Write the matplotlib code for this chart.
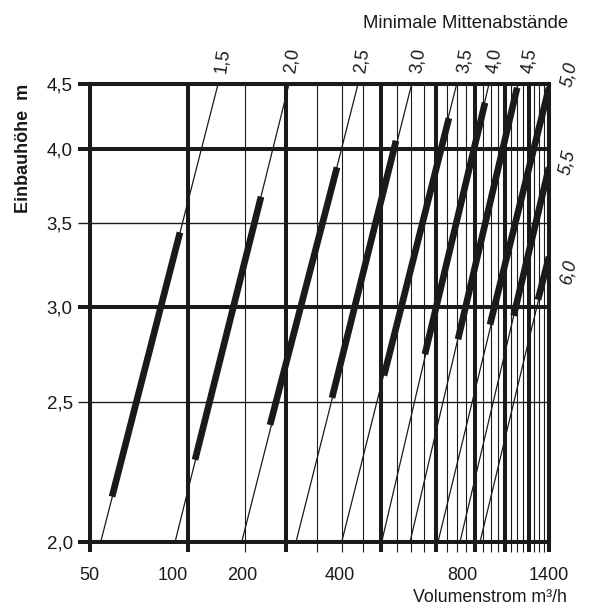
import numpy as np
import matplotlib
matplotlib.use("Agg")
import matplotlib.pyplot as plt
from matplotlib import transforms
from matplotlib.ticker import NullFormatter

plt.rcParams['font.family'] = ['Liberation Sans', 'DejaVu Sans']

# ---------------- data ----------------
x_thick_grid = [50, 100, 200, 400, 600, 800, 1000, 1200, 1400]
x_thin_grid = [150, 250, 300, 350, 450, 500, 550, 650, 700, 750,
               850, 900, 950, 1050, 1100, 1150, 1250, 1300, 1350]
y_thick_grid = [2.0, 3.0, 4.0, 4.5]
y_thick_labels = ['2,0', '3,0', '4,0', '4,5']
y_thin_grid = [2.5, 3.5]
y_thin_labels = ['2,5', '3,5']
x_label_texts = ['50', '100', '200', '400', '800', '1400']
x_label_values = [50, 90, 147, 297, 727, 1400]

spacing_labels = ['1,5', '2,0', '2,5', '3,0', '3,5', '4,0', '4,5', '5,0', '5,5', '6,0']
line_x_start = [54.1, 91.3, 146.2, 215.1, 300.3, 402, 495.4, 608.9, 716, 830.8]
line_y_start = [2.0, 2.0, 2.0, 2.0, 2.0, 2.0, 2.0, 2.0, 2.0, 2.0]
line_x_end = [123.7, 204.4, 338.2, 501.6, 699, 889, 1107, 1400, 1400, 1400]
line_y_end = [4.5, 4.5, 4.5, 4.5, 4.5, 4.5, 4.5, 4.47, 3.87, 3.29]
thick_x_start = [58.6, 105.1, 178.6, 279.8, 408.9, 553, 705.8, 896, 1072, 1288]
thick_y_start = [2.15, 2.28, 2.41, 2.52, 2.63, 2.74, 2.82, 2.90, 2.95, 3.04]
thick_x_end = [94.5, 167.6, 290.2, 446.8, 660, 862.9, 1100, 1400, 1400, 1400]
thick_y_end = [3.44, 3.67, 3.87, 4.06, 4.23, 4.35, 4.47, 4.47, 3.87, 3.29]

# ---------------- scale calibration (hand-drawn nomogram axes) ----------------
x_scale_values = [50, 100, 200, 400, 800, 1400]
x_scale_pos = [89.5, 188, 286, 381, 475, 549]
y_scale_values = [2.0, 2.5, 3.0, 3.5, 4.0, 4.5]
y_scale_pos = [66, 206, 301, 385, 459, 524]


def make_funcs(vals, pos):
    lv = np.log(np.asarray(vals, float))
    pv = np.asarray(pos, float)
    s0 = (pv[1] - pv[0]) / (lv[1] - lv[0])
    s1 = (pv[-1] - pv[-2]) / (lv[-1] - lv[-2])

    def fwd(v):
        v = np.log(np.clip(np.asarray(v, float), 1e-12, None))
        out = np.interp(v, lv, pv)
        out = np.where(v < lv[0], pv[0] + (v - lv[0]) * s0, out)
        out = np.where(v > lv[-1], pv[-1] + (v - lv[-1]) * s1, out)
        return out

    def inv(p):
        p = np.asarray(p, float)
        out = np.interp(p, pv, lv)
        out = np.where(p < pv[0], lv[0] + (p - pv[0]) / s0, out)
        out = np.where(p > pv[-1], lv[-1] + (p - pv[-1]) / s1, out)
        return np.exp(out)

    return fwd, inv


W, H = 590, 608
fig = plt.figure(figsize=(W / 100, H / 100), dpi=100)
ax = fig.add_axes([89.5 / W, 66 / H, (549 - 89.5) / W, (524 - 66) / H])
ax.set_xscale('function', functions=make_funcs(x_scale_values, x_scale_pos))
ax.set_yscale('function', functions=make_funcs(y_scale_values, y_scale_pos))
ax.set_xlim(50, 1400)
ax.set_ylim(2.0, 4.5)

ink = '#1a1a1a'
thick_lw = 2.9
thin_lw = 0.8

# x ticks / grid
ax.set_xticks(x_thick_grid)
ax.set_xticks(x_thin_grid, minor=True)
ax.xaxis.set_major_formatter(NullFormatter())
ax.xaxis.set_minor_formatter(NullFormatter())
ax.tick_params(axis='x', which='major', length=7.5, width=thick_lw, color=ink, direction='out')
ax.tick_params(axis='x', which='minor', length=7.5, width=thin_lw, color=ink, direction='out')
# y ticks / grid
ax.set_yticks(y_thick_grid, y_thick_labels)
ax.set_yticks(y_thin_grid, y_thin_labels, minor=True)
ax.tick_params(axis='y', which='major', length=8.5, width=thick_lw, color=ink,
               direction='out', pad=3.5, labelsize=13.5, labelcolor=ink)
ax.tick_params(axis='y', which='minor', length=8.5, width=1.0, color=ink,
               direction='out', pad=3.5, labelsize=13.5, labelcolor=ink)

ax.grid(True, which='major', axis='both', color=ink, lw=thick_lw)
ax.grid(True, which='minor', axis='x', color=ink, lw=thin_lw)
ax.grid(True, which='minor', axis='y', color=ink, lw=1.0)
ax.set_axisbelow(True)
for sp in ax.spines.values():
    sp.set_linewidth(thick_lw)
    sp.set_color(ink)

# diagonal lines
for i in range(len(spacing_labels)):
    ax.plot([line_x_start[i], line_x_end[i]], [line_y_start[i], line_y_end[i]],
            color=ink, lw=0.9, zorder=3)
    ax.plot([thick_x_start[i], thick_x_end[i]], [thick_y_start[i], thick_y_end[i]],
            color=ink, lw=4.8, solid_capstyle='butt', zorder=4)

# spacing labels
top_offsets = [(2.9, 16.5), (2.2, 16.5), (2.5, 16.5), (5.0, 16.5), (5.8, 16.5),
               (4.3, 16.5), (8.6, 16.5)]
right_offsets = [(14.5, 9.5), (13.5, 3.5), (14, -10.5)]
for i, lab in enumerate(spacing_labels):
    if i < 7:
        ax.annotate(lab, xy=(line_x_end[i], line_y_end[i]), xytext=top_offsets[i],
                    textcoords='offset points', ha='center', va='center',
                    rotation=82, fontsize=13, color=ink, annotation_clip=False)
    else:
        ax.annotate(lab, xy=(line_x_end[i], line_y_end[i]), xytext=right_offsets[i - 7],
                    textcoords='offset points', ha='center', va='center',
                    rotation=78, fontsize=13, style='italic', color=ink,
                    annotation_clip=False)

# x labels
tr = transforms.blended_transform_factory(ax.transData, fig.transFigure)
for v, t in zip(x_label_values, x_label_texts):
    ax.text(v, 1 - 575 / H, t, transform=tr, ha='center', va='center',
            fontsize=13, color=ink, clip_on=False)

fig.text(567 / W, 1 - 598 / H, 'Volumenstrom m³/h', ha='right', va='center',
         fontsize=12.8, color=ink)
fig.text(568 / W, 1 - 23 / H, 'Minimale Mittenabstände', ha='right', va='center',
         fontsize=13.3, color=ink)
fig.text(24 / W, 1 - 148 / H, 'Einbauhöhe  m', rotation=90, ha='center', va='center',
         fontsize=13, fontweight='bold', color=ink)

fig.savefig('out.png', dpi=100)
